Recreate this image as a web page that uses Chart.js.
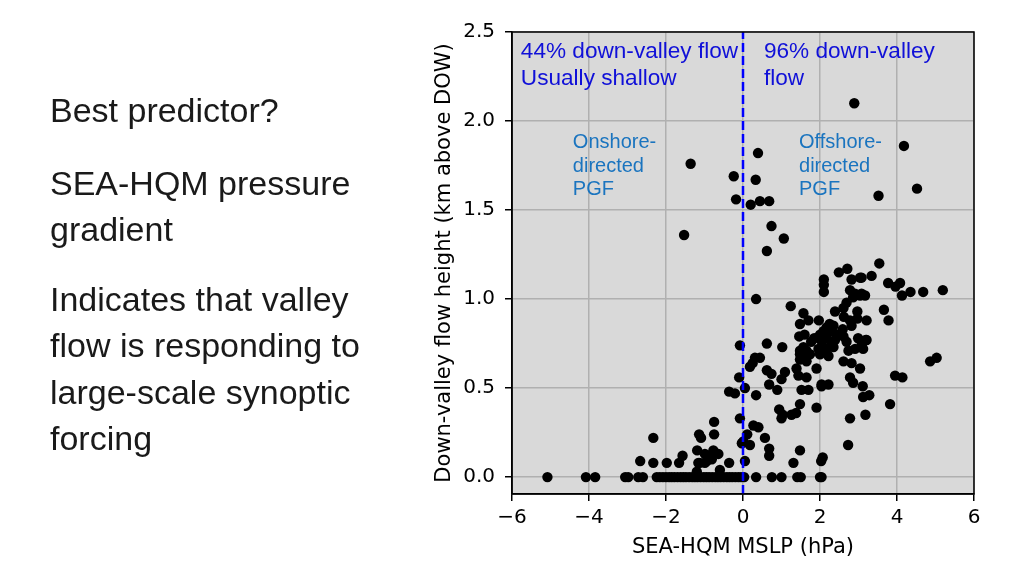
<!DOCTYPE html>
<html>
<head>
<meta charset="utf-8">
<script src="https://cdn.jsdelivr.net/npm/chart.js@4"></script>
<style>
  body { margin: 0; background: #fff; }
  #wrap { position: relative; width: 1024px; height: 576px; overflow: hidden; }
  #c { position: absolute; left: 0; top: 0; }
  .slide { position: absolute; left: 50px; font-family: "Liberation Sans", Arial, sans-serif;
           font-size: 34px; line-height: 34px; color: #1a1a1a; white-space: nowrap; }
</style>
</head>
<body>
<div id="wrap">
  <canvas id="c" width="1024" height="576"></canvas>
  <div class="slide" style="top:93px">Best predictor?</div>
  <div class="slide" style="top:166px">SEA-HQM pressure</div>
  <div class="slide" style="top:212px">gradient</div>
  <div class="slide" style="top:282px">Indicates that valley</div>
  <div class="slide" style="top:328px">flow is responding to</div>
  <div class="slide" style="top:375px">large-scale synoptic</div>
  <div class="slide" style="top:421px">forcing</div>
</div>
<script>
// SEA-HQM MSLP difference (hPa) vs down-valley flow height (km above DOW)
const pgfX = [
  2.89, 4.18, 0.39, -1.36, -0.24, 0.33, 4.52, 3.52, -0.18, 0.20, 0.44, 0.68, 0.74, 1.06, -1.53, 0.62,
  3.54, 2.49, 2.71, 2.10, 2.10, 2.10, 2.82, 3.04, 3.34, 3.77, 3.96, 4.08, 4.13, 4.35, 4.68, 5.19,
  2.78, 2.91, 3.04, 3.17, 2.86, 0.34, 1.24, 2.69, 2.61, 2.39, 3.66, 3.78, 1.57, 1.70, 1.48, 1.97,
  2.62, 2.97, 2.97, 3.21, 2.78, 2.82, 2.17, 2.30, 2.09, 2.00, 2.59, 2.61, 1.46, 1.77, 2.17, 2.39,
  2.69, 2.99, 3.21, 0.62, 1.02, 1.57, 1.48, 1.65, 1.96, 2.17, 2.35, 3.12, 2.91, 2.74, -0.08, 1.48,
  1.74, 2.00, 2.22, 1.48, 1.65, 2.61, 2.82, 4.86, 5.03, 0.44, 0.31, 0.25, 0.18, 1.91, 3.04, 0.62,
  0.74, 1.09, 1.39, 1.44, 1.65, 1.00, -0.10, 2.78, 2.86, 3.95, 4.14, 0.68, 0.89, 1.52, 1.70, 2.04,
  2.04, 2.22, 3.11, 0.05, 0.34, 3.12, 3.28, 3.82, 1.48, 1.91, 0.94, 1.03, 1.00, 1.26, 1.38, 2.78,
  3.18, -0.08, 0.27, 0.40, 0.11, 0.01, 0.57, 0.18, 2.73, 0.68, 0.68, 1.48, 1.31, 2.07, 2.03, 0.05,
  2.25, 2.35, 2.45, 2.30, 2.05, 1.85, 1.60, 1.55, 3.08, 3.08, 3.19, 3.08,
  -0.36, -0.21, -0.75, -1.14, -1.09, -0.75, -2.33, -0.03, -1.19, -0.99, -0.77, -0.64, -0.81, -1.16,
  -1.57, -1.66, -1.98, -2.33, -2.67, -0.36, -0.60, -1.20, -0.99, -0.86, -0.94, -1.12
];
const flowH = [
  2.10, 1.86, 1.82, 1.76, 1.69, 1.67, 1.62, 1.58, 1.56, 1.53, 1.55, 1.55, 1.41, 1.34, 1.36, 1.27,
  1.20, 1.15, 1.17, 1.11, 1.08, 1.04, 1.11, 1.12, 1.13, 1.09, 1.07, 1.09, 1.02, 1.04, 1.04, 1.05,
  1.05, 1.03, 1.02, 1.02, 1.01, 1.00, 0.96, 0.98, 0.95, 0.93, 0.94, 0.88, 0.92, 0.88, 0.86, 0.88,
  0.90, 0.93, 0.89, 0.88, 0.88, 0.85, 0.84, 0.82, 0.82, 0.80, 0.83, 0.79, 0.79, 0.76, 0.78, 0.77,
  0.76, 0.78, 0.77, 0.75, 0.73, 0.73, 0.71, 0.71, 0.72, 0.72, 0.73, 0.72, 0.72, 0.71, 0.74, 0.69,
  0.69, 0.69, 0.68, 0.66, 0.65, 0.65, 0.64, 0.65, 0.67, 0.67, 0.67, 0.64, 0.62, 0.61, 0.61, 0.60,
  0.58, 0.59, 0.61, 0.57, 0.56, 0.55, 0.56, 0.56, 0.53, 0.57, 0.56, 0.52, 0.49, 0.49, 0.49, 0.52,
  0.51, 0.52, 0.51, 0.50, 0.46, 0.45, 0.46, 0.41, 0.41, 0.39, 0.38, 0.35, 0.33, 0.35, 0.36, 0.33,
  0.35, 0.33, 0.29, 0.28, 0.24, 0.20, 0.22, 0.18, 0.18, 0.16, 0.12, 0.15, 0.08, 0.11, 0.09, 0.09,
  0.86, 0.85, 0.80, 0.75, 0.76, 0.78, 0.80, 0.68, 1.12, 1.03, 0.77, 0.74,
  0.48, 0.47, 0.31, 0.24, 0.22, 0.24, 0.22, 0.19, 0.15, 0.13, 0.15, 0.13, 0.10, 0.08,
  0.12, 0.08, 0.08, 0.08, 0.09, 0.08, 0.04, 0.03, 0.08, 0.12, 0.09, 0.08
];
// cases with no down-valley flow (height 0)
const calmX = [
  -5.08, -4.08, -3.84, -3.06, -2.98, -2.72, -2.60,
  -2.24, -2.16, -2.08, -2.00, -1.92, -1.85, -1.78, -1.70, -1.62, -1.55, -1.48, -1.40, -1.32, -1.25,
  -1.18, -1.10, -1.02, -0.95, -0.88, -0.80, -0.72, -0.65, -0.58, -0.50, -0.42, -0.35, -0.28, -0.20,
  -0.12, -0.05, 0.03, 0.34, 0.75, 1.00, 1.41, 1.50, 2.00, 2.04
];
const xTicks = [-6, -4, -2, 0, 2, 4, 6];
const yTicks = [0, 0.5, 1.0, 1.5, 2.0, 2.5];
const splitX = [0, 0];
const splitY = [-0.095, 2.5];

const notes = [
  { lines: ['44% down-valley flow', 'Usually shallow'], x: -5.77, y: 2.354, size: 22.6, gap: 27, color: '#1010d8' },
  { lines: ['96% down-valley', 'flow'], x: 0.545, y: 2.354, size: 22.6, gap: 27, color: '#1010d8' },
  { lines: ['Onshore-', 'directed', 'PGF'], x: -4.42, y: 1.847, size: 20, gap: 23.5, color: '#1a74bf' },
  { lines: ['Offshore-', 'directed', 'PGF'], x: 1.455, y: 1.847, size: 20, gap: 23.5, color: '#1a74bf' }
];

const pts = pgfX.map((x, i) => ({ x: x, y: flowH[i] }))
  .concat(calmX.map(x => ({ x: x, y: 0 })));

const axesBox = {
  id: 'axesBox',
  beforeDraw(chart) {
    const a = chart.chartArea, ctx = chart.ctx;
    ctx.save();
    ctx.fillStyle = '#d9d9d9';
    ctx.fillRect(a.left, a.top, a.right - a.left, a.bottom - a.top);
    ctx.restore();
  },
  afterDatasetsDraw(chart) {
    const ctx = chart.ctx, xs = chart.scales.x, ys = chart.scales.y;
    ctx.save();
    ctx.textBaseline = 'alphabetic';
    ctx.textAlign = 'left';
    notes.forEach(n => {
      ctx.fillStyle = n.color;
      ctx.font = n.size + 'px "Liberation Sans", Arial, sans-serif';
      const px = xs.getPixelForValue(n.x);
      const py = ys.getPixelForValue(n.y);
      n.lines.forEach((t, i) => ctx.fillText(t, px, py + i * n.gap));
    });
    ctx.restore();
  },
  afterDraw(chart) {
    const a = chart.chartArea, ctx = chart.ctx;
    ctx.save();
    ctx.strokeStyle = '#000';
    ctx.lineWidth = 1.5;
    ctx.strokeRect(a.left, a.top, a.right - a.left, a.bottom - a.top);
    ctx.restore();
  }
};

const tickFont = { family: 'DejaVu Sans', size: 20 };
const titleFont = { family: 'DejaVu Sans', size: 21 };

new Chart(document.getElementById('c'), {
  type: 'scatter',
  data: {
    datasets: [{
      type: 'line',
      data: splitX.map((x, i) => ({ x: x, y: splitY[i] })),
      borderColor: '#0000ff',
      borderWidth: 2.5,
      borderDash: [9, 4],
      pointRadius: 0,
      fill: false
    }, {
      data: pts,
      backgroundColor: '#000',
      borderColor: '#000',
      borderWidth: 0,
      pointRadius: 5.2,
      pointHoverRadius: 5.2
    }]
  },
  options: {
    responsive: false,
    animation: false,
    layout: { padding: { left: 432, right: 50, top: 32, bottom: 16 } },
    plugins: { legend: { display: false }, tooltip: { enabled: false } },
    scales: {
      x: {
        type: 'linear', min: -6, max: 6,
        afterBuildTicks: s => { s.ticks = xTicks.map(v => ({ value: v })); },
        afterFit: s => { s.height = 66; },
        ticks: { color: '#000', font: tickFont, padding: 5, maxRotation: 0,
                 callback: v => String(v).replace('-', '\u2212') },
        grid: { color: '#b0b0b0', lineWidth: 1.5, tickColor: '#000', tickWidth: 1.5, tickLength: 7 },
        border: { color: '#000', width: 1.5 },
        title: { display: true, text: 'SEA-HQM MSLP (hPa)', color: '#000', font: titleFont, padding: 0 }
      },
      y: {
        type: 'linear', min: -0.095, max: 2.5,
        afterBuildTicks: s => { s.ticks = yTicks.map(v => ({ value: v })); },
        afterFit: s => { s.width = 80; },
        ticks: { color: '#000', font: tickFont, padding: 10, callback: v => v.toFixed(1) },
        grid: { color: '#b0b0b0', lineWidth: 1.5, tickColor: '#000', tickWidth: 1.5, tickLength: 7 },
        border: { color: '#000', width: 1.5 },
        title: { display: true, text: 'Down-valley flow height (km above DOW)', color: '#000', font: titleFont, padding: 0 }
      }
    }
  },
  plugins: [axesBox]
});
</script>
</body>
</html>
